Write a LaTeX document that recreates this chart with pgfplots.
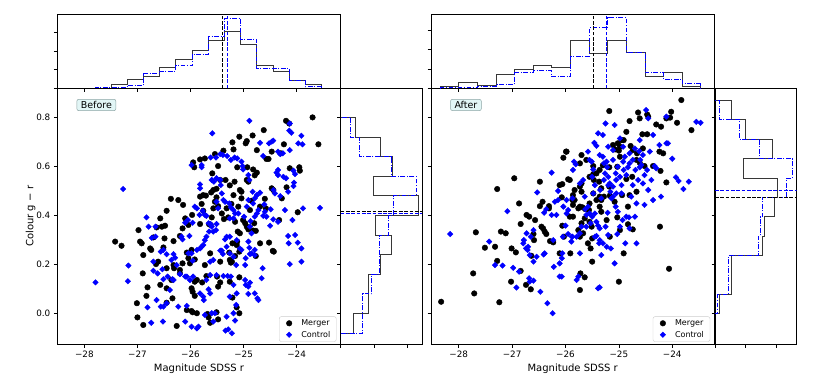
\documentclass[border=0pt]{standalone}
\usepackage{fontspec}
\setmainfont{DejaVu Sans}
\usepackage{pgfplots}
\pgfplotsset{compat=1.18}

\definecolor{boxfill}{RGB}{226,246,246}
\definecolor{boxedge}{RGB}{140,165,165}
\definecolor{histk}{RGB}{55,55,55}

\tikzset{
  tag/.style={anchor=north west, draw=boxedge, fill=boxfill, rounded corners=2pt,
    inner xsep=4pt, inner ysep=2pt, font=\fontsize{9.5}{11}\selectfont, line width=0.5pt},
}

\pgfplotsset{
  legend image code/.code={\path (0cm,0cm) (0.55cm,0cm);
    \draw[mark repeat=2,mark phase=2,#1] plot coordinates {(0cm,0cm)(0.2cm,0cm)(0.4cm,0cm)};},
  panel/.style={
    scale only axis, anchor=south west,
    axis line style={line width=0.6pt},
    every tick/.style={black, line width=0.6pt},
    major tick length=3.5pt, tick align=outside,
    xtick pos=bottom, ytick pos=left,
    ticklabel style={font=\fontsize{8.8}{10}\selectfont},
    label style={font=\fontsize{10}{12}\selectfont},
    /pgf/number format/assume math mode=true,
  },
  mainpanel/.style={panel, width=283.4pt, height=256pt,
    ymin=-0.128, ymax=0.919,
    xtick={-28,-27,-26,-25,-24},
    xticklabels={−28,−27,−26,−25,−24},
    ytick={0,0.2,0.4,0.6,0.8},
    xlabel={Magnitude SDSS r},
    xlabel style={yshift=1pt},
    ylabel style={yshift=-6pt},
    legend style={at={(0.985,0.01)}, anchor=south east, draw=black!20,
      rounded corners=2pt, font=\fontsize{8}{9}\selectfont,
      inner xsep=4pt, inner ysep=1pt},
    legend cell align=left,
  },
  tophist/.style={panel, width=283.4pt, height=73.6pt, ymin=0,
    xtick={-28,-27,-26,-25,-24}, xticklabels={}, ytick={0,1,2,3}, yticklabels={}},
  sidehist/.style={panel, width=81.6pt, height=256pt, xmin=0,
    ymin=-0.128, ymax=0.919, xtick={0,1,2}, xticklabels={},
    ytick={0,0.2,0.4,0.6,0.8}, yticklabels={}},
  merger/.style={only marks, mark=*, mark size=2.8pt, black},
  control/.style={only marks, mark=square*, mark size=1.95pt, mark options={rotate=45}, blue},
  hk/.style={histk, line width=0.9pt, no marks},
  hb/.style={blue, line width=0.9pt, no marks, dash pattern=on 4.8pt off 1.6pt on 1pt off 1.6pt},
  mk/.style={black, line width=1pt, no marks, dash pattern=on 3.7pt off 1.6pt},
  mb/.style={blue, line width=1pt, no marks, dash pattern=on 3.7pt off 1.6pt},
}

\begin{document}
\begin{tikzpicture}
\path[use as bounding box] (0,0) rectangle (817pt,379pt);

% ---------------- Before: scatter ----------------
\begin{axis}[mainpanel, at={(57.3pt,34.7pt)}, xmin=-28.51, xmax=-23.17,
  yticklabels={0.0,0.2,0.4,0.6,0.8}, ylabel={Colour g − r}]
\addplot[merger] coordinates {
(-23.70,0.800)(-23.59,0.690)(-24.20,0.786)(-24.14,0.775)(-24.62,0.748)(-24.83,0.726)(-25.08,0.721)(-25.21,0.698)(-24.96,0.694)(-24.94,0.703)(-24.75,0.666)(-24.57,0.630)(-24.53,0.630)(-24.24,0.690)(-24.47,0.660)(-24.30,0.653)(-25.19,0.669)(-25.38,0.664)(-25.54,0.650)(-25.73,0.632)(-25.82,0.628)(-25.93,0.596)(-25.95,0.616)(-25.48,0.601)(-25.59,0.571)(-25.44,0.544)(-25.34,0.544)(-25.12,0.596)(-24.93,0.596)(-24.82,0.587)(-24.75,0.574)(-24.79,0.563)(-24.94,0.544)(-24.91,0.537)(-25.17,0.537)(-25.26,0.522)(-25.07,0.503)(-25.04,0.496)(-25.51,0.508)(-25.57,0.503)(-25.61,0.493)(-25.71,0.480)(-25.79,0.446)(-25.76,0.482)(-25.19,0.482)(-25.04,0.469)(-25.23,0.446)(-24.85,0.459)(-25.10,0.435)(-25.32,0.428)(-25.57,0.428)(-25.51,0.473)(-24.13,0.592)(-23.95,0.596)(-23.94,0.582)(-24.28,0.469)(-24.47,0.510)(-24.44,0.503)(-24.19,0.514)(-24.33,0.380)(-23.98,0.412)(-24.60,0.467)(-24.58,0.428)(-24.80,0.367)(-24.94,0.353)(-25.16,0.373)(-25.29,0.391)(-25.37,0.384)(-25.41,0.407)(-25.48,0.437)(-25.60,0.391)(-25.76,0.418)(-25.65,0.363)(-25.82,0.364)(-25.97,0.401)(-26.04,0.360)(-26.20,0.315)(-26.32,0.294)(-26.37,0.467)(-26.23,0.462)(-26.14,0.442)(-26.10,0.387)(-26.15,0.346)(-26.45,0.418)(-26.48,0.357)(-26.57,0.387)(-26.64,0.350)(-26.70,0.309)(-26.54,0.353)(-26.49,0.305)(-26.51,0.268)(-26.61,0.210)(-26.65,0.200)(-26.76,0.264)(-26.74,0.258)(-26.89,0.237)(-26.92,0.285)(-26.98,0.339)(-26.95,0.292)(-27.42,0.292)(-27.30,0.275)(-26.90,0.162)(-26.81,0.105)(-27.01,0.040)(-27.00,-0.018)(-26.89,-0.049)(-26.45,0.042)(-26.34,0.060)(-26.26,-0.053)(-25.98,0.008)(-25.96,0.003)(-26.04,0.224)(-25.92,0.219)(-25.98,0.258)(-26.07,0.247)(-26.01,0.203)(-25.88,0.135)(-25.92,0.128)(-25.98,0.101)(-25.96,0.087)(-25.92,0.070)(-25.78,0.125)(-25.73,0.196)(-25.63,0.244)(-25.44,0.210)(-25.27,0.247)(-25.26,0.217)(-25.24,0.206)(-25.16,0.233)(-25.13,0.278)(-25.12,0.292)(-25.11,0.333)(-25.07,0.326)(-25.21,0.285)(-25.08,0.251)(-25.26,0.128)(-25.21,0.063)(-25.08,-0.001)(-25.13,0.023)(-25.44,0.125)(-25.50,0.149)(-25.48,0.108)(-25.08,0.146)(-25.70,0.151)(-26.20,0.176)(-26.31,0.183)(-26.45,0.183)(-26.57,0.115)(-26.45,0.101)(-26.36,0.135)(-26.32,0.196)(-26.20,0.162)(-26.15,0.203)(-26.07,0.012)(-25.88,-0.001)(-25.68,-0.004)(-25.66,-0.018)(-25.63,-0.040)(-25.51,0.003)(-25.48,-0.026)(-24.77,0.233)(-24.69,0.285)(-24.52,0.288)(-24.45,0.254)(-24.43,0.251)(-24.82,0.337)(-24.77,0.336)(-24.97,0.367)(-24.91,0.342)(-25.01,0.380)(-24.88,0.421)(-24.69,0.435)(-26.83,0.070)(-25.82,0.476)(-25.54,0.455)(-25.62,0.360)(-25.22,0.210)
};
\addplot[control] coordinates {
(-27.79,0.125)(-27.27,0.507)(-27.17,0.194)(-27.18,0.130)(-26.83,0.391)(-26.79,0.353)(-26.73,0.307)(-26.66,0.353)(-26.66,0.312)(-26.70,0.210)(-26.70,0.173)(-26.62,0.162)(-26.56,0.251)(-26.51,0.258)(-26.45,0.240)(-26.53,0.179)(-26.51,0.138)(-26.43,0.149)(-26.39,0.094)(-26.34,0.138)(-26.36,0.217)(-26.29,0.226)(-26.26,0.196)(-26.15,0.301)(-26.17,0.312)(-26.10,0.369)(-26.05,0.380)(-26.02,0.315)(-25.96,0.369)(-25.98,0.605)(-25.79,0.605)(-25.79,0.596)(-25.82,0.526)(-25.82,0.510)(-25.92,0.435)(-25.88,0.428)(-25.83,0.401)(-25.77,0.418)(-25.73,0.401)(-25.70,0.397)(-25.66,0.367)(-25.62,0.364)(-25.60,0.353)(-25.57,0.333)(-25.52,0.339)(-25.51,0.364)(-25.59,0.735)(-25.62,0.636)(-25.60,0.544)(-25.56,0.537)(-25.51,0.551)(-25.44,0.544)(-25.43,0.523)(-25.41,0.489)(-25.38,0.462)(-25.35,0.455)(-25.27,0.448)(-25.24,0.432)(-25.19,0.421)(-25.16,0.407)(-25.51,0.455)(-25.48,0.428)(-25.26,0.387)(-25.19,0.387)(-25.13,0.298)(-25.10,0.407)(-24.99,0.394)(-24.94,0.435)(-24.91,0.462)(-24.82,0.448)(-24.79,0.469)(-24.83,0.496)(-24.89,0.544)(-24.91,0.564)(-25.01,0.587)(-25.02,0.601)(-25.04,0.619)(-25.12,0.632)(-25.17,0.636)(-25.24,0.626)(-25.31,0.642)(-25.39,0.646)(-25.44,0.650)(-25.52,0.636)(-24.89,0.786)(-24.69,0.696)(-24.52,0.694)(-24.47,0.701)(-24.44,0.705)(-24.35,0.660)(-24.31,0.650)(-24.26,0.653)(-24.10,0.737)(-24.14,0.746)(-24.13,0.775)(-23.91,0.725)(-23.89,0.690)(-24.35,0.585)(-24.38,0.574)(-24.35,0.564)(-24.25,0.557)(-24.06,0.582)(-24.03,0.568)(-24.20,0.551)(-24.16,0.496)(-24.05,0.533)(-23.88,0.428)(-23.91,0.264)(-24.16,0.315)(-23.98,0.288)(-24.08,0.380)(-24.35,0.373)(-24.22,0.421)(-24.49,0.424)(-24.44,0.383)(-24.50,0.357)(-24.60,0.414)(-24.57,0.394)(-24.63,0.397)(-24.72,0.421)(-24.75,0.407)(-24.79,0.394)(-24.75,0.482)(-24.61,0.444)(-24.69,0.492)(-24.87,0.376)(-24.88,0.353)(-24.85,0.326)(-24.91,0.292)(-24.89,0.267)(-24.88,0.241)(-24.96,0.224)(-24.85,0.244)(-24.79,0.258)(-24.79,0.237)(-24.97,0.196)(-25.14,0.196)(-25.19,0.230)(-25.26,0.244)(-25.26,0.312)(-25.32,0.312)(-25.35,0.301)(-25.32,0.271)(-25.41,0.255)(-25.39,0.241)(-25.44,0.255)(-25.57,0.217)(-25.63,0.210)(-25.63,0.155)(-25.51,0.155)(-25.38,0.151)(-25.30,0.151)(-25.24,0.149)(-25.19,0.115)(-25.13,0.080)(-25.26,0.067)(-25.14,0.033)(-24.91,0.078)(-24.72,0.053)(-24.66,0.142)(-25.19,-0.001)(-25.16,-0.031)(-25.32,-0.015)(-25.34,-0.072)(-25.22,-0.083)(-25.29,-0.067)(-25.57,-0.035)(-25.54,-0.001)(-25.60,-0.001)(-25.73,-0.008)(-25.82,0.080)(-25.76,0.067)(-25.75,0.053)(-25.66,0.097)(-25.63,0.080)(-25.70,0.135)(-25.98,-0.056)(-25.88,-0.063)(-25.85,-0.056)(-26.07,0.029)(-26.10,-0.035)(-26.23,0.026)(-26.45,0.040)(-26.56,0.026)(-26.51,0.026)(-26.64,0.053)(-26.81,0.023)(-26.74,-0.040)(-26.52,-0.035)(-26.20,0.159)(-26.10,0.149)(-26.07,0.149)(-26.01,0.135)(-25.95,0.149)(-25.98,0.244)(-25.88,0.258)(-25.82,0.264)(-25.79,0.271)(-25.76,0.278)(-25.73,0.298)(-25.70,0.312)(-25.65,0.333)(-26.04,0.244)(-26.32,0.241)(-26.32,0.135)(-25.96,0.214)(-23.91,0.210)(-23.97,0.694)(-24.13,0.666)(-24.63,0.642)(-24.44,0.503)(-24.41,0.489)(-24.31,0.478)(-24.06,0.519)(-25.07,0.264)(-25.04,0.258)(-24.64,0.183)(-24.74,0.060)(-24.79,0.080)(-24.91,0.108)(-24.97,0.135)(-24.96,0.115)(-24.88,0.124)(-24.13,0.200)(-24.15,0.285)(-24.03,0.319)(-23.56,0.430)
};
\legend{Merger,Control}
\node[tag] at (rel axis cs:0.068,0.958) {Before};
\end{axis}

% ---------------- Before: top histogram ----------------
\begin{axis}[tophist, at={(57.3pt,290.7pt)}, xmin=-28.51, xmax=-23.17, ymax=3.95]
\addplot[hk, const plot mark left] coordinates {
(-27.495,0)(-27.495,0.20)(-27.190,0.50)(-26.885,0.63)(-26.580,1.11)(-26.275,1.53)(-25.970,2.03)(-25.665,2.55)(-25.360,3.07)(-25.055,2.35)(-24.750,1.22)(-24.445,0.93)(-24.140,0.43)(-23.835,0.20)(-23.530,0)};
\addplot[hb, const plot mark left] coordinates {
(-27.800,0)(-27.800,0.05)(-27.495,0.05)(-27.190,0.14)(-26.885,0.79)(-26.580,0.92)(-26.275,1.20)(-25.970,1.80)(-25.665,2.78)(-25.360,3.75)(-25.055,2.62)(-24.750,1.06)(-24.445,1.06)(-24.140,0.43)(-23.835,0.09)(-23.530,0)};
\addplot[mk] coordinates {(-25.40,0)(-25.40,3.95)};
\addplot[mb] coordinates {(-25.30,0)(-25.30,3.95)};
\end{axis}

% ---------------- Before: side histogram ----------------
\begin{axis}[sidehist, at={(340.7pt,34.7pt)}, xmax=2.46]
\addplot[hk] coordinates {
(0,-0.082)(0.37,-0.082)(0.37,-0.002)(0.84,-0.002)(0.84,0.078)(0.84,0.078)(0.84,0.159)(1.21,0.159)(1.21,0.239)(1.52,0.239)(1.52,0.319)(1.06,0.319)(1.06,0.399)(2.34,0.399)(2.34,0.479)(0.99,0.479)(0.99,0.560)(1.57,0.560)(1.57,0.640)(1.21,0.640)(1.21,0.720)(0.45,0.720)(0.45,0.800)(0,0.800)};
\addplot[hb] coordinates {
(0,-0.082)(0.67,-0.082)(0.67,-0.002)(0.67,-0.002)(0.67,0.078)(0.94,0.078)(0.94,0.159)(1.16,0.159)(1.16,0.239)(1.16,0.239)(1.16,0.319)(1.44,0.319)(1.44,0.399)(1.59,0.399)(1.59,0.479)(2.27,0.479)(2.27,0.560)(1.52,0.560)(1.52,0.640)(0.57,0.640)(0.57,0.720)(0.30,0.720)(0.30,0.800)(0,0.800)};
\addplot[mk] coordinates {(0,0.415)(2.46,0.415)};
\addplot[mb] coordinates {(0,0.405)(2.46,0.405)};
\end{axis}

% ---------------- After: scatter ----------------
\begin{axis}[mainpanel, at={(431pt,34.7pt)}, xmin=-28.52, xmax=-23.21, yticklabels={}]
\addplot[merger] coordinates {
(-23.83,0.871)(-23.64,0.748)(-24.02,0.823)(-24.11,0.796)(-24.21,0.762)(-23.91,0.778)(-24.04,0.799)(-24.30,0.771)(-24.47,0.812)(-24.45,0.803)(-24.64,0.820)(-24.61,0.796)(-24.80,0.785)(-24.86,0.741)(-24.47,0.731)(-24.56,0.731)(-24.78,0.683)(-24.91,0.707)(-24.98,0.680)(-25.11,0.687)(-25.00,0.664)(-25.18,0.826)(-24.95,0.707)(-25.02,0.694)(-25.07,0.669)(-24.74,0.666)(-24.66,0.653)(-24.61,0.615)(-24.55,0.673)(-24.17,0.653)(-24.24,0.660)(-24.36,0.601)(-24.22,0.581)(-24.11,0.534)(-24.52,0.601)(-24.75,0.557)(-24.86,0.548)(-24.98,0.639)(-25.03,0.598)(-25.18,0.596)(-25.30,0.604)(-25.36,0.585)(-25.42,0.571)(-25.48,0.601)(-25.55,0.557)(-25.37,0.537)(-25.47,0.544)(-25.70,0.530)(-25.73,0.517)(-25.70,0.496)(-25.95,0.547)(-25.92,0.544)(-26.11,0.523)(-26.07,0.473)(-26.06,0.527)(-25.86,0.482)(-25.87,0.462)(-25.86,0.442)(-25.98,0.660)(-26.04,0.635)(-25.70,0.646)(-25.73,0.612)(-25.61,0.626)(-25.48,0.568)(-25.33,0.510)(-25.33,0.462)(-25.18,0.517)(-25.17,0.480)(-25.28,0.476)(-25.36,0.476)(-25.42,0.462)(-25.48,0.489)(-25.55,0.448)(-25.56,0.421)(-25.63,0.425)(-25.68,0.432)(-25.73,0.435)(-25.76,0.428)(-25.64,0.387)(-25.55,0.373)(-25.51,0.353)(-25.50,0.305)(-25.58,0.285)(-25.70,0.367)(-25.76,0.339)(-25.73,0.312)(-25.86,0.394)(-25.92,0.394)(-26.06,0.357)(-26.03,0.312)(-25.91,0.244)(-26.11,0.244)(-25.23,0.380)(-25.17,0.312)(-24.98,0.339)(-25.03,0.391)(-24.83,0.363)(-24.74,0.342)(-24.83,0.435)(-24.91,0.244)(-25.53,0.264)(-25.50,0.210)(-25.67,0.326)(-26.31,0.437)(-26.31,0.428)(-26.48,0.437)(-26.43,0.455)(-26.45,0.353)(-26.42,0.346)(-26.39,0.333)(-26.36,0.323)(-26.29,0.294)(-26.23,0.289)(-26.57,0.380)(-26.60,0.323)(-26.59,0.298)(-26.64,0.234)(-26.68,0.394)(-26.73,0.401)(-26.84,0.364)(-26.87,0.448)(-26.96,0.551)(-27.28,0.507)(-27.28,0.213)(-27.21,0.333)(-27.12,0.326)(-27.01,0.264)(-26.93,0.248)(-26.84,0.172)(-27.02,0.128)(-26.74,0.115)(-26.65,0.097)(-27.32,0.271)(-27.51,0.267)(-27.68,0.330)(-27.73,0.162)(-27.71,0.080)(-27.24,0.044)(-28.33,0.046)(-25.72,0.162)(-25.64,0.146)(-25.73,0.094)(-25.00,0.128)(-24.06,0.181)(-24.23,0.353)(-26.48,0.537)(-25.99,0.660)(-25.83,0.503)(-25.83,0.462)(-25.36,0.435)(-25.33,0.414)(-25.08,0.455)(-24.94,0.482)(-24.80,0.482)(-24.67,0.496)(-24.67,0.626)
};
\addplot[control] coordinates {
(-28.16,0.323)(-27.43,0.292)(-27.32,0.196)(-27.18,0.194)(-27.09,0.416)(-26.98,0.185)(-26.92,0.104)(-26.87,0.169)(-26.79,0.285)(-26.78,0.298)(-26.73,0.326)(-26.71,0.258)(-26.68,0.142)(-26.67,0.128)(-26.60,0.132)(-26.65,0.312)(-26.60,0.339)(-26.60,0.210)(-26.54,0.230)(-26.53,0.493)(-26.47,0.087)(-26.41,0.239)(-26.40,0.410)(-26.36,0.425)(-26.34,0.040)(-26.26,0.574)(-26.24,-0.001)(-26.26,0.401)(-26.22,0.189)(-26.17,0.401)(-26.14,0.499)(-26.11,0.149)(-26.11,0.203)(-26.07,0.224)(-26.06,0.244)(-26.05,0.312)(-26.00,0.357)(-25.98,0.462)(-25.95,0.421)(-25.89,0.292)(-25.88,0.312)(-25.87,0.469)(-25.86,0.585)(-25.84,0.619)(-25.81,0.608)(-25.79,0.135)(-25.76,0.149)(-25.73,0.244)(-25.70,0.353)(-25.67,0.544)(-25.64,0.476)(-25.63,0.425)(-25.61,0.401)(-25.61,0.353)(-25.58,0.660)(-25.55,0.626)(-25.51,0.619)(-25.50,0.557)(-25.48,0.587)(-25.46,0.696)(-25.45,0.523)(-25.42,0.684)(-25.39,0.735)(-25.36,0.646)(-25.35,0.503)(-25.33,0.469)(-25.33,0.237)(-25.36,0.105)(-25.30,0.728)(-25.28,0.612)(-25.26,0.571)(-25.25,0.775)(-25.23,0.619)(-25.22,0.596)(-25.20,0.680)(-25.17,0.530)(-25.16,0.496)(-25.14,0.469)(-25.11,0.626)(-25.08,0.769)(-25.06,0.571)(-25.05,0.544)(-25.02,0.598)(-24.98,0.557)(-24.95,0.523)(-24.95,0.489)(-24.92,0.619)(-24.91,0.585)(-24.89,0.639)(-24.86,0.564)(-24.83,0.596)(-24.80,0.612)(-24.77,0.476)(-24.74,0.523)(-24.70,0.394)(-24.67,0.448)(-24.64,0.544)(-24.62,0.662)(-24.61,0.707)(-24.60,0.626)(-24.58,0.605)(-24.55,0.646)(-24.52,0.564)(-24.49,0.830)(-24.47,0.585)(-24.45,0.796)(-24.42,0.660)(-24.39,0.544)(-24.36,0.728)(-24.33,0.601)(-24.30,0.592)(-24.24,0.687)(-24.21,0.476)(-24.11,0.694)(-24.11,0.803)(-24.08,0.694)(-24.00,0.631)(-23.93,0.555)(-23.88,0.540)(-23.79,0.507)(-23.69,0.537)(-23.55,0.782)(-23.47,0.778)(-25.11,0.476)(-25.06,0.435)(-25.02,0.414)(-24.98,0.353)(-25.03,0.323)(-24.93,0.380)(-24.88,0.285)(-24.86,0.394)(-24.81,0.391)(-24.80,0.346)(-24.67,0.285)(-25.21,0.410)(-25.25,0.353)(-25.20,0.319)(-25.15,0.264)(-25.23,0.271)(-25.30,0.285)(-25.36,0.346)(-25.39,0.357)(-25.42,0.373)(-25.45,0.407)(-25.50,0.394)(-25.55,0.407)(-25.58,0.435)(-25.53,0.367)(-25.45,0.312)(-25.42,0.315)(-25.37,0.285)(-25.73,0.326)(-25.79,0.312)(-25.87,0.312)(-25.98,0.407)(-26.04,0.435)(-26.14,0.462)(-26.20,0.455)(-26.23,0.298)(-26.39,0.244)(-26.67,0.237)(-26.70,0.271)(-26.74,0.264)(-25.08,0.203)(-25.39,0.101)(-26.07,0.149)(-25.36,0.298)(-25.95,0.323)(-25.73,0.530)(-25.48,0.489)(-25.28,0.544)(-25.20,0.557)(-25.30,0.639)(-25.11,0.666)(-24.98,0.714)(-24.92,0.680)(-24.80,0.653)(-24.70,0.673)(-24.74,0.626)(-24.55,0.530)(-24.45,0.503)(-24.52,0.442)(-24.36,0.462)(-24.61,0.596)(-24.69,0.585)(-25.05,0.489)(-25.11,0.517)(-25.20,0.523)
};
\legend{Merger,Control}
\node[tag] at (rel axis cs:0.068,0.958) {After};
\end{axis}

% ---------------- After: top histogram ----------------
\begin{axis}[tophist, at={(431pt,290.7pt)}, xmin=-28.52, xmax=-23.21, ymax=3.79]
\addplot[hk, const plot mark left] coordinates {
(-28.349,0)(-28.349,0.07)(-28.000,0.28)(-27.651,0.16)(-27.302,0.71)(-26.953,0.97)(-26.604,1.16)(-26.255,1.05)(-25.906,2.47)(-25.557,1.78)(-25.208,2.47)(-24.859,1.84)(-24.510,0.60)(-24.161,0.81)(-23.812,0.10)(-23.463,0)};
\addplot[hb, const plot mark left] coordinates {
(-28.349,0)(-28.349,0.03)(-28.000,0.03)(-27.651,0.10)(-27.302,0.19)(-26.953,0.81)(-26.604,0.91)(-26.255,0.60)(-25.906,1.66)(-25.557,3.12)(-25.208,3.64)(-24.859,1.84)(-24.510,0.81)(-24.161,0.48)(-23.812,0.24)(-23.463,0)};
\addplot[mk] coordinates {(-25.47,0)(-25.47,3.79)};
\addplot[mb] coordinates {(-25.23,0)(-25.23,3.79)};
\end{axis}

% ---------------- After: side histogram ----------------
\begin{axis}[sidehist, at={(715pt,34.7pt)}, xmax=2.66]
\addplot[hk] coordinates {
(0,-0.003)(0.14,-0.003)(0.14,0.076)(0.54,0.076)(0.54,0.156)(0.54,0.156)(0.54,0.235)(1.54,0.235)(1.54,0.314)(1.62,0.314)(1.62,0.394)(1.93,0.394)(1.93,0.473)(2.03,0.473)(2.03,0.552)(0.92,0.552)(0.92,0.631)(1.86,0.631)(1.86,0.711)(0.99,0.711)(0.99,0.790)(0.55,0.790)(0.55,0.869)(0,0.869)};
\addplot[hb] coordinates {
(0,-0.003)(0.09,-0.003)(0.09,0.076)(0.44,0.076)(0.44,0.156)(0.44,0.156)(0.44,0.235)(1.41,0.235)(1.41,0.314)(1.47,0.314)(1.47,0.394)(1.56,0.394)(1.56,0.473)(2.34,0.473)(2.34,0.552)(2.52,0.552)(2.52,0.631)(1.45,0.631)(1.45,0.711)(0.80,0.711)(0.80,0.790)(0.14,0.790)(0.14,0.869)(0,0.869)};
\addplot[mk] coordinates {(0,0.472)(2.66,0.472)};
\addplot[mb] coordinates {(0,0.502)(2.66,0.502)};
\end{axis}
\end{tikzpicture}
\end{document}
